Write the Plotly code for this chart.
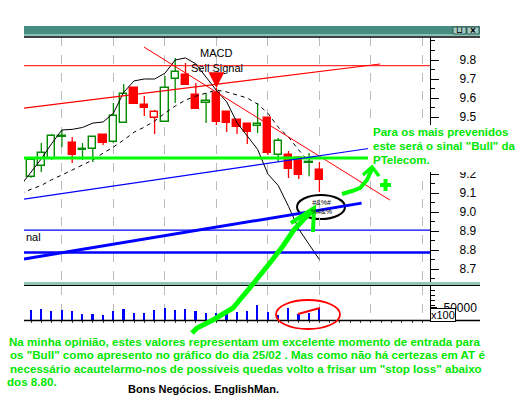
import plotly.graph_objects as go

W, H = 525, 398

# ---------------- data ----------------
candle_idx = list(range(-1, 29))
opens  = [9.15, 9.184, 9.242, 9.279, 9.395, 9.363, 9.326, 9.332, 9.405, 9.368,
          9.468, 9.653, 9.563, 9.495, 9.474, 9.700, 9.721, 9.616, 9.574, 9.626,
          9.526, 9.484, 9.463, 9.453, 9.495, 9.300, 9.300, 9.284, 9.258, 9.221]
highs  = [9.22, 9.285, 9.363, 9.410, 9.432, 9.395, 9.363, 9.400, 9.410, 9.574,
          9.674, 9.658, 9.611, 9.537, 9.716, 9.811, 9.784, 9.679, 9.626, 9.653,
          9.530, 9.490, 9.463, 9.574, 9.500, 9.390, 9.321, 9.284, 9.311, 9.263]
lows   = [9.13, 9.180, 9.211, 9.274, 9.342, 9.258, 9.274, 9.263, 9.353, 9.363,
          9.468, 9.568, 9.505, 9.410, 9.474, 9.574, 9.668, 9.542, 9.468, 9.458,
          9.421, 9.411, 9.358, 9.416, 9.300, 9.263, 9.179, 9.174, 9.189, 9.105]
closes = [9.21, 9.274, 9.311, 9.400, 9.402, 9.300, 9.332, 9.395, 9.363, 9.505,
          9.621, 9.568, 9.547, 9.526, 9.653, 9.737, 9.668, 9.542, 9.584, 9.474,
          9.470, 9.447, 9.421, 9.463, 9.311, 9.374, 9.226, 9.195, 9.263, 9.168]

vol_idx = list(range(0, 29))
volumes = [40700, 44700, 36600, 40700, 36600, 24400, 24400, 20300, 37800, 44700,
           28500, 28500, 40700, 48800, 40700, 44700, 36600, 28500, 27200, 40700,
           32500, 36600, 61000, 32500, 20300, 48800, 24400, 28500, 48800]

ma_fast = [9.14, 9.21, 9.28, 9.36, 9.432, 9.435, 9.445, 9.468, 9.474, 9.52,
           9.63, 9.69, 9.70, 9.70, 9.73, 9.80, 9.811, 9.78, 9.71, 9.64,
           9.58, 9.47, 9.40, 9.33, 9.20, 9.14, 9.03, 8.91, 8.83, 8.75]
ma_slow_idx = list(range(-1, 28))
ma_slow = [9.095, 9.12, 9.14, 9.17, 9.195, 9.22, 9.247, 9.274, 9.31, 9.342,
           9.379, 9.42, 9.447, 9.479, 9.52, 9.558, 9.589, 9.61, 9.626, 9.642,
           9.632, 9.616, 9.60, 9.568, 9.52, 9.447, 9.395, 9.326, 9.263]

# trend lines (bar index, price)
red_flat_level = 9.77
red_up_x, red_up_y = [-0.68, 33.9], [9.547, 9.779]
red_down_x, red_down_y = [10.97, 34.85], [9.868, 9.063]
green_level = 9.284
green_x = [-0.68, 33.0]
blue_up_x, blue_up_y = [-0.68, 33.1], [9.068, 9.337]
blue_thin_level = 8.905
blue_thick_level = 8.787
blue_thick_up_x, blue_thick_up_y = [-0.68, 32.1], [8.753, 9.047]

price_ticks = [8.7, 8.8, 8.9, 9.0, 9.1, 9.2, 9.3, 9.4, 9.5, 9.6, 9.7, 9.8]
hidden_labels = [9.3, 9.4]          # covered by the note in the reference
grid_idx = [3, 8, 13, 18, 23, 28, 33, 38]
sell_signal_idx = 18
sell_signal_price = 9.653

X_RANGE = [-0.68, 38.74]
Y_RANGE = [8.632, 9.921]
V_RANGE = [0, 138200]

GREEN_C = "#008a00"
RED_C = "#ff0000"
TXT_GREEN = "#00e600"
FONT = "Liberation Sans, Arial, sans-serif"


def px(x):
    return x / W


def py(y):
    return 1 - y / H


# ---------------- candle geometry from data ----------------
prev = [None] + closes[:-1]
body_base, body_h, fill_c, line_c = [], [], [], []
for o, c, p in zip(opens, closes, prev):
    body_base.append(min(o, c))
    body_h.append(max(abs(c - o), 0.005))
    up_day = (c >= p) if p is not None else (c >= o)
    col = GREEN_C if up_day else RED_C
    line_c.append(col)
    fill_c.append("white" if c >= o else col)

wick = {GREEN_C: ([], []), RED_C: ([], [])}
for i, o, h, l, c, col in zip(candle_idx, opens, highs, lows, closes, line_c):
    xs, ys = wick[col]
    xs += [i, i, None, i, i, None]
    ys += [l, min(o, c), None, max(o, c), h, None]

fig = go.Figure()

for col, (xs, ys) in wick.items():
    fig.add_trace(go.Scatter(x=xs, y=ys, mode="lines", line=dict(color=col, width=1.3),
                             hoverinfo="skip", xaxis="x", yaxis="y"))
fig.add_trace(go.Bar(x=candle_idx, y=body_h, base=body_base, width=0.7,
                     marker=dict(color=fill_c, line=dict(color=line_c, width=1.4)),
                     xaxis="x", yaxis="y"))

fig.add_trace(go.Scatter(x=candle_idx, y=ma_fast, mode="lines",
                         line=dict(color="black", width=1), xaxis="x", yaxis="y"))
fig.add_trace(go.Scatter(x=ma_slow_idx, y=ma_slow, mode="lines",
                         line=dict(color="black", width=1, dash="4px,4px"), xaxis="x", yaxis="y"))


def seg(xs, ys, color, width):
    fig.add_trace(go.Scatter(x=xs, y=ys, mode="lines", line=dict(color=color, width=width),
                             hoverinfo="skip", xaxis="x", yaxis="y"))


seg(X_RANGE, [red_flat_level] * 2, RED_C, 1)
seg(red_up_x, red_up_y, RED_C, 1.2)
seg(red_down_x, red_down_y, RED_C, 1)
seg(green_x, [green_level] * 2, "#00ff00", 3)
seg(blue_up_x, blue_up_y, "#0000ff", 1.2)
seg(X_RANGE, [blue_thin_level] * 2, "#0000ff", 1.2)
seg(X_RANGE, [blue_thick_level] * 2, "#0000ff", 2.5)
seg(blue_thick_up_x, blue_thick_up_y, "#0000ff", 3)

fig.add_trace(go.Bar(x=vol_idx, y=volumes, width=0.16, marker=dict(color="#0000ff", line=dict(width=0)),
                     xaxis="x2", yaxis="y2"))

# ---------------- decorations ----------------
shapes = []


def rect(x0, x1, y0, y1, fill, line=None, layer="above"):
    shapes.append(dict(type="rect", xref="paper", yref="paper", x0=px(x0), x1=px(x1), y0=py(y1), y1=py(y0),
                       fillcolor=fill, line=line or dict(width=0), layer=layer))


def hline(x0, x1, y, color, width):
    shapes.append(dict(type="line", xref="paper", yref="paper", x0=px(x0), x1=px(x1), y0=py(y), y1=py(y),
                       line=dict(color=color, width=width), layer="above"))


rect(24, 480, 26, 36, "#468c80")
rect(24, 480, 34, 36, "#86c2b6")
hline(24, 480, 37, "black", 1.5)
for bx0, bx1 in [(453, 466), (467, 479)]:
    rect(bx0, bx1, 27, 34, "#a6cbc3", dict(color="#2a5a52", width=1))
rect(24, 480, 282, 285, "#93c4b8")
hline(24, 480, 285.5, "black", 1.2)
hline(24, 480, 320.5, "black", 1.5)
# white box behind the green note
rect(368, 525, 125, 172, "white")

shapes.append(dict(type="circle", xref="paper", yref="paper", x0=px(297), x1=px(345), y0=py(219), y1=py(195),
                   fillcolor="white", line=dict(color="black", width=2), layer="between"))
shapes.append(dict(type="circle", xref="paper", yref="paper", x0=px(276), x1=px(340), y0=py(329), y1=py(300),
                   line=dict(color=RED_C, width=1.8), layer="above"))
shapes.append(dict(type="line", xref="paper", yref="paper", x0=px(298), x1=px(320), y0=py(314), y1=py(308),
                   line=dict(color=RED_C, width=2), layer="above"))


def path(points):
    return " ".join(("M" if k == 0 else "L") + f" {px(a):.5f},{py(b):.5f}" for k, (a, b) in enumerate(points))


big_arrow = [(192, 333), (197, 328), (213, 320), (233, 308), (253, 284), (269, 264), (283, 246),
             (293, 231), (303, 220), (314, 209)]
shapes.append(dict(type="path", xref="paper", yref="paper", path=path(big_arrow),
                   line=dict(color="#00ff00", width=5), layer="above"))
shapes.append(dict(type="path", xref="paper", yref="paper", path=path([(313, 232), (314, 208), (291, 223)]),
                   line=dict(color="#00ff00", width=4), layer="above"))
small_arrow = [(342, 194), (352, 191), (360, 188), (367, 180), (372, 169)]
shapes.append(dict(type="path", xref="paper", yref="paper", path=path(small_arrow),
                   line=dict(color="#00ff00", width=4), layer="above"))
shapes.append(dict(type="path", xref="paper", yref="paper", path=path([(363, 175), (372, 167), (379, 176)]),
                   line=dict(color="#00ff00", width=3.5), layer="above"))
shapes.append(dict(type="path", xref="paper", yref="paper",
                   path=path([(380, 185), (391, 185)]) + " " + path([(385.5, 179), (385.5, 191)]),
                   line=dict(color="#00ff00", width=4), layer="above"))

annotations = []


def txt(x, y, text, size=11, color="black", bold=False, xanchor="left", **kw):
    annotations.append(dict(x=px(x), y=py(y), xref="paper", yref="paper", text=("<b>%s</b>" % text) if bold else text,
                            showarrow=False, xanchor=xanchor, yanchor="middle", borderpad=0,
                            font=dict(family=FONT, size=size, color=color), **kw))


txt(215.5, 53, "MACD", xanchor="center")
txt(217, 68, "Sell Signal", xanchor="center")
txt(24.5, 237, "nal")
txt(321, 207, "#&amp;%#<br>%#&amp;%", size=7, xanchor="center")

annotations.append(dict(x=sell_signal_idx, y=sell_signal_price, xref="x", yref="y", text="", showarrow=True,
                        ax=0, ay=-13, arrowhead=2, arrowsize=0.9, arrowwidth=3.5, arrowcolor=RED_C))

# green note on the right
for y, t in [(132, "Para os mais prevenidos"), (146, "este será o sinal \"Bull\" da"), (160, "PTelecom.")]:
    txt(372, y, t, size=11.5, color=TXT_GREEN, bold=True)

annotations.append(dict(x=px(443), y=py(315), xref="paper", yref="paper", xanchor="center", yanchor="middle",
                        text="x100", showarrow=False, bgcolor="white", bordercolor="black", borderwidth=1,
                        borderpad=0, font=dict(family=FONT, size=11, color="black")))

txt(459.5, 30.5, "&#8852;", size=9, xanchor="center")
txt(473, 30.5, "<b>×</b>", size=10, xanchor="center")

para = [
    (8, 341, "Na minha opinião, estes valores representam um excelente momento de entrada para"),
    (9, 354.5, "os \"Bull\" como apresento no gráfico do dia 25/02 . Mas como não há certezas em AT é"),
    (9, 368, "necessário acautelarmo-nos de possíveis quedas volto a frisar um \"stop loss\" abaixo"),
    (6, 381, "dos 8.80."),
]
for x, y, t in para:
    txt(x, y, t, size=11.6, color=TXT_GREEN, bold=True)
txt(127, 389, "Bons Negócios. EnglishMan.", size=11, bold=True)

axis_x_common = dict(range=X_RANGE, domain=[px(24), px(430)], showticklabels=False,
                     tickvals=grid_idx, showgrid=True, griddash="dash", gridcolor="#bcbcbc", gridwidth=1,
                     zeroline=False, showline=False, fixedrange=True)

fig.update_layout(
    width=W, height=H, margin=dict(l=0, r=0, t=0, b=0),
    paper_bgcolor="white", plot_bgcolor="white", showlegend=False, bargap=0,
    barmode="overlay",
    xaxis=dict(anchor="y", ticks="", **axis_x_common),
    xaxis2=dict(anchor="y2", matches="x", ticks="outside", ticklen=2, tickcolor="#404040",
                minor=dict(dtick=1, tick0=0, ticks="outside", ticklen=2, tickcolor="#404040", showgrid=False),
                **axis_x_common),
    yaxis=dict(anchor="x", domain=[py(282), py(37)], range=Y_RANGE, side="right", showgrid=False,
               zeroline=False, showline=True, linecolor="black", linewidth=1.2,
               tickvals=price_ticks,
               ticktext=["" if v in hidden_labels else f"{v:.1f}" for v in price_ticks],
               ticks="outside", ticklen=8, tickwidth=1.2, tickcolor="black", ticklabelstandoff=18,
               minor=dict(dtick=0.05, tick0=8.65, ticks="outside", ticklen=4, tickcolor="black"),
               tickfont=dict(family=FONT, size=12, color="black"), fixedrange=True),
    yaxis2=dict(anchor="x2", domain=[py(320), py(286)], range=V_RANGE, side="right", showgrid=False,
                zeroline=False, showline=True, linecolor="black", linewidth=1.2,
                tickvals=[50000], ticktext=["50000"], ticks="outside", ticklen=6, tickcolor="black",
                ticklabelstandoff=4,
                minor=dict(tickvals=[20000, 40000, 60000, 80000, 100000, 120000], ticks="outside",
                           ticklen=4, tickcolor="black"),
                tickfont=dict(family=FONT, size=12, color="black"), fixedrange=True),
    shapes=shapes, annotations=annotations,
)

fig.write_html("out.html", config={"displayModeBar": False},
               post_script="document.body.style.margin='0';document.body.style.overflow='hidden';")
